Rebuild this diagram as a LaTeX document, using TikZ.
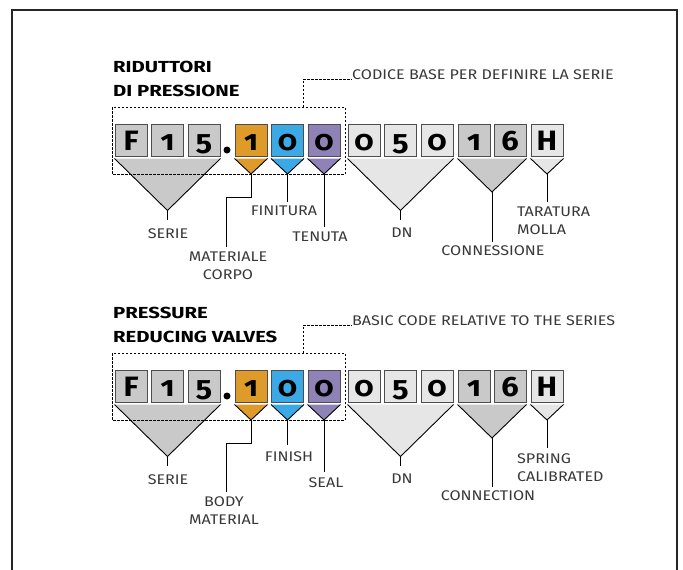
\documentclass[tikz,border=0pt]{standalone}
\usepackage{fontspec}
\setmainfont{Fira Sans}[BoldFont={* Bold},
  UprightFeatures={FakeStretch=1.15},BoldFeatures={FakeStretch=1.27}]
\newfontfamily\cifrefont{Fira Sans Bold}[Numbers=OldStyle,FakeStretch=1.1]
\usetikzlibrary{positioning}

\definecolor{grigio}{HTML}{C9C9C9}
\definecolor{chiaro}{HTML}{E6E6E6}
\definecolor{arancio}{HTML}{DE9B2A}
\definecolor{azzurro}{HTML}{3AA9E6}
\definecolor{viola}{HTML}{8E82B6}
\definecolor{bordo}{HTML}{4D4D4D}

\tikzset{
  cifra/.style={draw=bordo, line width=1pt, minimum size=32pt, inner sep=0pt,
    text height=21pt, text depth=0pt, font=\cifrefont\fontsize{28}{28}\selectfont},
  cuneo/.style={draw=black, line width=0.9pt},
  filo/.style={line width=0.9pt},
  voce/.style={font=\fontsize{14}{18}\selectfont, align=center, inner sep=0pt, anchor=north, text=black!78},
  titolo/.style={font=\bfseries\fontsize{16}{24}\selectfont, align=left, inner sep=0pt, anchor=north west},
  nota/.style={font=\fontsize{14}{18}\selectfont, inner sep=0pt, anchor=base west, text=black!78},
  tratteggio/.style={line width=0.8pt, dash pattern=on 2.5pt off 1.5pt},
}

\begin{document}
\begin{tikzpicture}[x=1pt,y=-1pt]
  \useasboundingbox (0,0) rectangle (683,570);
  \draw[line width=1.2pt, draw=black!85] (12,570) -- (12,10) -- (677,10) -- (677,570);

  % le due righe del codice
  \foreach \b/\dy in {a/0,b/246}{
    \begin{scope}[yshift=-\dy pt]
      \node[cifra, fill=grigio] (\b-1) at (131,140) {F};
      \node[cifra, fill=grigio] (\b-2) at (167.5,140) {1};
      \node[cifra, fill=grigio] (\b-3) at (204,140) {5};
      \node[circle, fill=black, inner sep=0pt, minimum size=7pt] (\b-punto) at (227,150) {};
      \node[cifra, fill=arancio] (\b-4) at (251,140) {1};
      \node[cifra, fill=azzurro] (\b-5) at (287.5,140) {0};
      \node[cifra, fill=viola] (\b-6) at (324,140) {0};
      \node[cifra, fill=chiaro] (\b-7) at (364,140) {0};
      \node[cifra, fill=chiaro] (\b-8) at (400.5,140) {5};
      \node[cifra, fill=chiaro] (\b-9) at (437,140) {0};
      \node[cifra, fill=grigio] (\b-10) at (474,140) {1};
      \node[cifra, fill=grigio] (\b-11) at (510,140) {6};
      \node[cifra, fill=chiaro] (\b-12) at (547,140) {H};

      % vertici dei cunei
      \coordinate (\b-serie) at (167.5,210.5);
      \coordinate (\b-corpo) at (251,174);
      \coordinate (\b-finit) at (287.5,174);
      \coordinate (\b-tenuta) at (324,174);
      \coordinate (\b-dn) at (400.5,210.5);
      \coordinate (\b-conn) at (492,192);
      \coordinate (\b-molla) at (547,174);
      \coordinate (\b-gancio) at (303,107);

      \fill[grigio] ([yshift=-2pt]\b-1.south west) -- ([yshift=-2pt]\b-3.south east) -- (\b-serie) -- cycle;
      \draw[cuneo] ([yshift=-2pt]\b-1.south west) -- (\b-serie) -- ([yshift=-2pt]\b-3.south east);
      \fill[arancio] ([yshift=-2pt]\b-4.south west) -- ([yshift=-2pt]\b-4.south east) -- (\b-corpo) -- cycle;
      \draw[cuneo] ([yshift=-2pt]\b-4.south west) -- (\b-corpo) -- ([yshift=-2pt]\b-4.south east);
      \fill[azzurro] ([yshift=-2pt]\b-5.south west) -- ([yshift=-2pt]\b-5.south east) -- (\b-finit) -- cycle;
      \draw[cuneo] ([yshift=-2pt]\b-5.south west) -- (\b-finit) -- ([yshift=-2pt]\b-5.south east);
      \fill[viola] ([yshift=-2pt]\b-6.south west) -- ([yshift=-2pt]\b-6.south east) -- (\b-tenuta) -- cycle;
      \draw[cuneo] ([yshift=-2pt]\b-6.south west) -- (\b-tenuta) -- ([yshift=-2pt]\b-6.south east);
      \fill[chiaro] ([yshift=-2pt]\b-7.south west) -- ([yshift=-2pt]\b-9.south east) -- (\b-dn) -- cycle;
      \draw[cuneo] ([yshift=-2pt]\b-7.south west) -- (\b-dn) -- ([yshift=-2pt]\b-9.south east);
      \fill[grigio] ([yshift=-2pt]\b-10.south west) -- ([yshift=-2pt]\b-11.south east) -- (\b-conn) -- cycle;
      \draw[cuneo] ([yshift=-2pt]\b-10.south west) -- (\b-conn) -- ([yshift=-2pt]\b-11.south east);
      \fill[chiaro] ([yshift=-2pt]\b-12.south west) -- ([yshift=-2pt]\b-12.south east) -- (\b-molla) -- cycle;
      \draw[cuneo] ([yshift=-2pt]\b-12.south west) -- (\b-molla) -- ([yshift=-2pt]\b-12.south east);

      \draw[tratteggio] (112,107) rectangle (345,174);
    \end{scope}
  }

  % italiano
  \node[titolo] (a-tit) at (113,61) {RIDUTTORI\\DI PRESSIONE};
  \node[nota] (a-codice) at (352,79) {CODICE BASE PER DEFINIRE LA SERIE};
  \draw[tratteggio] (a-gancio) |- (a-codice.base west);

  \node[voce] (a-lserie) at (168,228) {SERIE};
  \node[voce] (a-lcorpo) at (228,252) {MATERIALE\\CORPO};
  \node[voce] (a-lfinit) at (284,206) {FINITURA};
  \node[voce] (a-ltenuta) at (320,232) {TENUTA};
  \node[voce] (a-ldn) at (402,228) {DN};
  \node[voce] (a-lconn) at (493,245) {CONNESSIONE};
  \node[voce, anchor=north west, align=left] (a-lmolla) at (517,207) {TARATURA\\MOLLA};

  \draw[filo, shorten >=8pt] (a-serie) -- (a-serie |- a-lserie.north);
  \draw[filo] (a-corpo) -- ++(0,23) -| ([xshift=-2pt,yshift=5pt]a-lcorpo.north);
  \draw[filo, shorten >=4pt] (a-finit) -- (a-finit |- a-lfinit.north);
  \draw[filo, shorten >=5pt] (a-tenuta) -- (a-tenuta |- a-ltenuta.north);
  \draw[filo, shorten >=8pt] (a-dn) -- (a-dn |- a-ldn.north);
  \draw[filo, shorten >=3pt] (a-conn) -- (a-conn |- a-lconn.north);
  \draw[filo, shorten >=5pt] (a-molla) -- (a-molla |- a-lmolla.north);

  % inglese
  \node[titolo] (b-tit) at (113,307) {PRESSURE\\REDUCING VALVES};
  \node[nota] (b-codice) at (352,325) {BASIC CODE RELATIVE TO THE SERIES};
  \draw[tratteggio] (b-gancio) |- (b-codice.base west);

  \node[voce] (b-lserie) at (168,474) {SERIE};
  \node[voce] (b-lcorpo) at (224,496) {BODY\\MATERIAL};
  \node[voce] (b-lfinit) at (289,451) {FINISH};
  \node[voce] (b-ltenuta) at (326,477) {SEAL};
  \node[voce] (b-ldn) at (402,474) {DN};
  \node[voce] (b-lconn) at (488,490) {CONNECTION};
  \node[voce, anchor=north west, align=left] (b-lmolla) at (517,453) {SPRING\\CALIBRATED};

  \draw[filo, shorten >=8pt] (b-serie) -- (b-serie |- b-lserie.north);
  \draw[filo] (b-corpo) -- ++(0,23) -| ([xshift=2pt,yshift=4pt]b-lcorpo.north);
  \draw[filo, shorten >=6pt] (b-finit) -- (b-finit |- b-lfinit.north);
  \draw[filo, shorten >=5pt] (b-tenuta) -- (b-tenuta |- b-ltenuta.north);
  \draw[filo, shorten >=8pt] (b-dn) -- (b-dn |- b-ldn.north);
  \draw[filo, shorten >=3pt] (b-conn) -- (b-conn |- b-lconn.north);
  \draw[filo, shorten >=5pt] (b-molla) -- (b-molla |- b-lmolla.north);
\end{tikzpicture}
\end{document}
